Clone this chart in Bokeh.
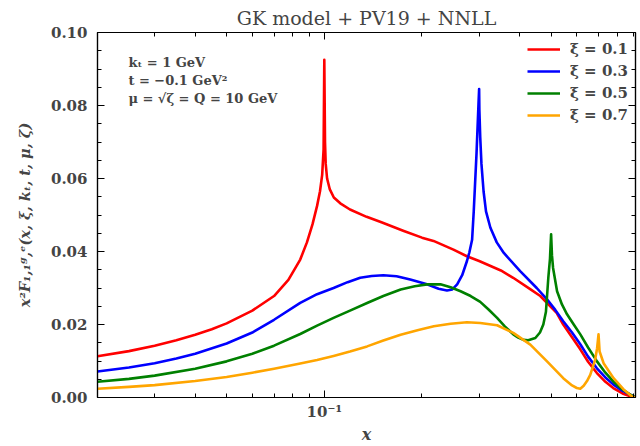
from bokeh.plotting import figure
from bokeh.models import (LogAxis, LinearAxis, FixedTicker, Legend, LegendItem, Label)
from bokeh.embed import file_html
from bokeh.resources import INLINE

# ---------------- data ----------------
x_xi01 = [0.02, 0.025, 0.03, 0.035, 0.04, 0.045, 0.05, 0.06, 0.07, 0.0775, 0.0843, 0.0884, 0.092, 0.095,
          0.097, 0.0985, 0.0995, 0.1, 0.1005, 0.101, 0.102, 0.104, 0.107, 0.112, 0.12, 0.135, 0.15, 0.175,
          0.2, 0.217, 0.25, 0.275, 0.3, 0.35, 0.382, 0.431, 0.463, 0.486, 0.52, 0.545, 0.58, 0.615, 0.65,
          0.692, 0.735, 0.777, 0.83, 0.877, 0.91]
y_xi01 = [0.0113, 0.0127, 0.0142, 0.0157, 0.0172, 0.0187, 0.0203, 0.0238, 0.0278, 0.0322, 0.0378, 0.0425, 0.0475, 0.0525,
          0.0565, 0.061, 0.068, 0.0925, 0.07, 0.064, 0.06, 0.057, 0.0548, 0.0532, 0.0515, 0.0495, 0.048, 0.0457,
          0.0438, 0.0429, 0.0405, 0.0387, 0.0374, 0.0348, 0.0328, 0.0297, 0.0278, 0.0259, 0.0232, 0.020, 0.0165, 0.0132, 0.0098,
          0.0067, 0.0043, 0.0026, 0.0011, 0.0003, 0.0]

x_xi03 = [0.02, 0.025, 0.03, 0.035, 0.04, 0.05, 0.06, 0.07, 0.0843, 0.095, 0.1068, 0.118, 0.129, 0.14, 0.152,
          0.167, 0.184, 0.2073, 0.225, 0.2388, 0.248, 0.2567, 0.266, 0.2752, 0.28, 0.2854, 0.2888, 0.2945, 0.2987,
          0.3, 0.3005, 0.3024, 0.305, 0.3096, 0.315, 0.325, 0.34, 0.3575, 0.4014, 0.4515, 0.4857, 0.515, 0.545,
          0.58, 0.615, 0.65, 0.692, 0.735, 0.777, 0.83, 0.877, 0.91]
y_xi03 = [0.0071, 0.0082, 0.0094, 0.0107, 0.012, 0.0148, 0.0178, 0.0213, 0.0259, 0.0283, 0.030, 0.0316, 0.0328, 0.0333, 0.0335,
          0.0332, 0.0323, 0.031, 0.0298, 0.0293, 0.0296, 0.031, 0.0335, 0.0374, 0.0398, 0.0432, 0.0511, 0.0668, 0.0805,
          0.0845, 0.079, 0.0712, 0.064, 0.0565, 0.051, 0.0465, 0.0425, 0.0396, 0.0346, 0.030, 0.0269, 0.024, 0.0209,
          0.0178, 0.0146, 0.0112, 0.008, 0.0055, 0.0036, 0.0018, 0.0008, 0.0]

x_xi05 = [0.02, 0.025, 0.03, 0.04, 0.05, 0.06, 0.07, 0.0843, 0.095, 0.1068, 0.12, 0.1355, 0.152, 0.1719, 0.19,
          0.2073, 0.228, 0.245, 0.263, 0.2825, 0.3024, 0.3208, 0.3408, 0.36, 0.3823, 0.396, 0.4106, 0.425, 0.4471,
          0.462, 0.4731, 0.482, 0.4902, 0.496, 0.5, 0.503, 0.507, 0.5216, 0.54, 0.5598, 0.585, 0.6152, 0.65,
          0.6924, 0.735, 0.777, 0.83, 0.877, 0.91]
y_xi05 = [0.0043, 0.0051, 0.006, 0.0079, 0.0099, 0.012, 0.0142, 0.0174, 0.0197, 0.0218, 0.0238, 0.0259, 0.0278, 0.0296, 0.0305,
          0.031, 0.031, 0.0302, 0.0291, 0.0278, 0.0262, 0.0241, 0.0218, 0.0195, 0.0173, 0.0164, 0.0158, 0.0157, 0.0163,
          0.0178, 0.020, 0.0235, 0.0328, 0.038, 0.0447, 0.039, 0.0355, 0.0291, 0.0255, 0.0228, 0.0202, 0.0173, 0.0137,
          0.0099, 0.0068, 0.0044, 0.0022, 0.0008, 0.0]

x_xi07 = [0.02, 0.025, 0.03, 0.04, 0.05, 0.06, 0.07, 0.0843, 0.095, 0.1068, 0.12, 0.1355, 0.152, 0.1719, 0.195,
          0.2176, 0.245, 0.2752, 0.3024, 0.3408, 0.3823, 0.4314, 0.4857, 0.545, 0.58, 0.6, 0.615, 0.63, 0.645,
          0.66, 0.6836, 0.693, 0.7, 0.7053, 0.7256, 0.7787, 0.8363, 0.8876, 0.91]
y_xi07 = [0.0024, 0.0029, 0.0034, 0.0045, 0.0056, 0.0068, 0.0079, 0.0093, 0.0103, 0.0114, 0.0126, 0.014, 0.0156, 0.0172, 0.0185,
          0.0195, 0.0202, 0.0206, 0.0204, 0.0198, 0.0177, 0.0145, 0.0099, 0.0053, 0.0033, 0.0026, 0.0024, 0.0032, 0.0045,
          0.0062, 0.0104, 0.0135, 0.0173, 0.0126, 0.0094, 0.0053, 0.0022, 0.0003, 0.0]

series_labels = ["ξ = 0.1", "ξ = 0.3", "ξ = 0.5", "ξ = 0.7"]
series_colors = ["#ff0000", "#0000ff", "#008000", "#ffa500"]

x_major_ticks = [0.1]
x_minor_ticks = [0.02, 0.03, 0.04, 0.05, 0.06, 0.07, 0.08, 0.09, 0.2, 0.3, 0.4, 0.5, 0.6, 0.7, 0.8, 0.9]
x_tick_labels = ["10⁻¹"]
y_major_ticks = [0.0, 0.02, 0.04, 0.06, 0.08, 0.10]
y_minor_ticks = [0.005, 0.01, 0.015, 0.025, 0.03, 0.035, 0.045, 0.05, 0.055, 0.065, 0.07, 0.075, 0.085, 0.09, 0.095]
y_tick_labels = ["0.00", "0.02", "0.04", "0.06", "0.08", "0.10"]

title_text = "GK model + PV19 + NNLL"
x_label = "x"
y_label = "x²F₁,₁ᵍ,ᵉ(x, ξ, kₜ, t, μ, ζ)"
info_lines = ["kₜ = 1 GeV", "t = −0.1 GeV²", "μ = √ζ = Q = 10 GeV"]

# ---------------- figure ----------------
SERIF = "DejaVu Serif"

p = figure(width=640, height=446, x_axis_type="log", x_range=(0.02, 0.91), y_range=(0.0, 0.10),
           output_backend="svg", toolbar_location=None,
           min_border_left=97, min_border_right=5, min_border_top=0, min_border_bottom=48,
           background_fill_color="white", border_fill_color="white")
p.grid.visible = False
p.outline_line_color = "black"
p.outline_line_width = 1.2

p.title.text = title_text
p.title.align = "center"
p.title.text_font = SERIF
p.title.text_font_size = "19px"
p.title.text_font_style = "normal"
p.title.standoff = 8

xt = FixedTicker(ticks=x_major_ticks, minor_ticks=x_minor_ticks)
yt = FixedTicker(ticks=y_major_ticks, minor_ticks=y_minor_ticks)


def style_axis(ax, ticker):
    ax.ticker = ticker
    ax.major_tick_in = 7
    ax.major_tick_out = 0
    ax.minor_tick_in = 4
    ax.minor_tick_out = 0
    ax.major_tick_line_color = "black"
    ax.minor_tick_line_color = "black"
    ax.axis_line_color = "black"
    ax.axis_line_width = 1.2


xa = p.xaxis[0]
style_axis(xa, xt)
xa.major_label_overrides = dict(zip(x_major_ticks, x_tick_labels))
xa.major_label_text_font = SERIF
xa.major_label_text_font_style = "bold"
xa.major_label_text_font_size = "15px"
xa.major_label_standoff = 5
xa.axis_label = x_label
xa.axis_label_text_font = SERIF
xa.axis_label_text_font_style = "bold italic"
xa.axis_label_text_font_size = "16px"
xa.axis_label_standoff = 1

ya = p.yaxis[0]
style_axis(ya, yt)
ya.major_label_overrides = dict(zip(y_major_ticks, y_tick_labels))
ya.major_label_text_font = SERIF
ya.major_label_text_font_style = "bold"
ya.major_label_text_font_size = "15px"
ya.major_label_standoff = 10
ya.axis_label = y_label
ya.axis_label_text_font = SERIF
ya.axis_label_text_font_style = "bold italic"
ya.axis_label_text_font_size = "14.5px"
ya.axis_label_standoff = 15

top_ax = LogAxis()
style_axis(top_ax, xt)
top_ax.major_label_text_color = None
top_ax.major_label_text_font_size = "1px"
top_ax.major_label_standoff = 0
top_ax.axis_label_standoff = 0
p.add_layout(top_ax, "above")

right_ax = LinearAxis()
style_axis(right_ax, yt)
right_ax.major_label_overrides = {t: " " for t in y_major_ticks}
right_ax.major_label_text_color = None
right_ax.major_label_text_font_size = "1px"
right_ax.major_label_standoff = 0
right_ax.axis_label_standoff = 0
p.add_layout(right_ax, "right")

renderers = []
for xs, ys, col in zip([x_xi01, x_xi03, x_xi05, x_xi07], [y_xi01, y_xi03, y_xi05, y_xi07], series_colors):
    renderers.append(p.line(xs, ys, line_color=col, line_width=2.6, line_join="round"))

legend = Legend(items=[LegendItem(label=lab, renderers=[r]) for lab, r in zip(series_labels, renderers)],
                location="top_right")
legend.label_text_font = SERIF
legend.label_text_font_style = "bold"
legend.label_text_font_size = "15px"
legend.glyph_width = 33
legend.glyph_height = 20
legend.label_height = 20
legend.label_standoff = 10
legend.spacing = 2
legend.padding = 2
legend.margin = 5
legend.border_line_alpha = 0
legend.background_fill_alpha = 0
p.add_layout(legend)

info_y = [0.0918, 0.0868, 0.0819]
for txt, yy in zip(info_lines, info_y):
    p.add_layout(Label(x=0.0249, y=yy, text=txt, text_font=SERIF, text_font_size="13px",
                       text_font_style="bold", text_baseline="middle", text_align="left"))

open("out.html", "w").write(file_html(p, INLINE))
